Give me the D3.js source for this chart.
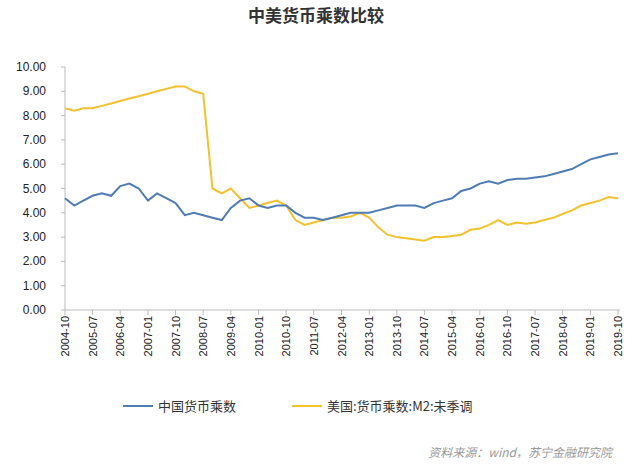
<!DOCTYPE html>
<html><head><meta charset="utf-8">
<script src="https://cdn.jsdelivr.net/npm/d3@7"></script>
<style>body{margin:0;background:#fff;font-family:"Noto Sans CJK SC","Noto Sans",sans-serif}</style>
</head><body><svg id="c" width="632" height="467"></svg>
<script>
// quarterly readings, starting 2004-10
var start = new Date(2004, 9, 1);
var china = [4.6,4.3,4.5,4.7,4.8,4.7,5.1,5.2,5.0,4.5,4.8,4.6,4.4,3.9,4.0,3.9,3.8,3.7,4.2,4.5,4.6,4.3,4.2,4.3,4.3,4.0,3.8,3.8,3.7,3.8,3.9,4.0,4.0,4.0,4.1,4.2,4.3,4.3,4.3,4.2,4.4,4.5,4.6,4.9,5.0,5.2,5.3,5.2,5.35,5.4,5.4,5.45,5.5,5.6,5.7,5.8,6.0,6.2,6.3,6.4,6.45];
var us = [8.3,8.2,8.3,8.3,8.4,8.5,8.6,8.7,8.8,8.9,9.0,9.1,9.2,9.2,9.0,8.9,5.0,4.8,5.0,4.6,4.2,4.3,4.4,4.5,4.3,3.7,3.5,3.6,3.7,3.8,3.8,3.85,4.0,3.8,3.4,3.1,3.0,2.95,2.9,2.85,3.0,3.0,3.05,3.1,3.3,3.35,3.5,3.7,3.5,3.6,3.55,3.6,3.7,3.8,3.95,4.1,4.3,4.4,4.5,4.65,4.6];
var tickLabels = ["2004-10","2005-07","2006-04","2007-01","2007-10","2008-07","2009-04","2010-01","2010-10","2011-07","2012-04","2013-01","2013-10","2014-07","2015-04","2016-01","2016-10","2017-07","2018-04","2019-01","2019-10"];
var yTicks = [0,1,2,3,4,5,6,7,8,9,10];

var svg = d3.select("#c");
var dates = china.map(function(d,i){ return d3.timeMonth.offset(start, i*3); });
var x = d3.scaleTime().domain([start, new Date(2019,9,1)]).range([65, 618]);
var y = d3.scaleLinear().domain([0,10]).range([310, 67]);

svg.append("text").attr("x",316).attr("y",22).attr("text-anchor","middle")
  .attr("font-size",17).attr("font-weight","bold").attr("fill","#333").text("中美货币乘数比较");

svg.append("line").attr("x1",65).attr("x2",65).attr("y1",67).attr("y2",310).attr("stroke","#bbb");
yTicks.forEach(function(t){
  svg.append("line").attr("x1",61).attr("x2",65).attr("y1",y(t)).attr("y2",y(t)).attr("stroke","#bbb");
  svg.append("text").attr("x",46).attr("y",y(t)+4).attr("text-anchor","end")
    .attr("font-size",12).attr("font-family","Liberation Sans").attr("fill","#222").text(t.toFixed(2));
});
svg.append("line").attr("x1",65).attr("x2",620).attr("y1",310).attr("y2",310).attr("stroke","#bbb");
tickLabels.forEach(function(s){
  var p = s.split("-"), d = new Date(+p[0], +p[1]-1, 1), px = x(d);
  svg.append("line").attr("x1",px).attr("x2",px).attr("y1",310).attr("y2",315).attr("stroke","#bbb");
  svg.append("text").attr("transform","translate("+(px+4)+",316) rotate(-90)").attr("text-anchor","end")
    .attr("font-size",11).attr("font-family","Liberation Sans").attr("fill","#222").text(s);
});

var line = d3.line().x(function(d,i){ return x(dates[i]); }).y(function(d){ return y(d); });
svg.append("path").datum(us).attr("d",line).attr("fill","none").attr("stroke","#f2c12e").attr("stroke-width",2);
svg.append("path").datum(china).attr("d",line).attr("fill","none").attr("stroke","#4f7cb3").attr("stroke-width",2);

var leg = [["中国货币乘数","#4f7cb3",123],["美国:货币乘数:M2:未季调","#f2c12e",292]];
leg.forEach(function(l){
  svg.append("line").attr("x1",l[2]).attr("x2",l[2]+30).attr("y1",406).attr("y2",406).attr("stroke",l[1]).attr("stroke-width",2);
  svg.append("text").attr("x",l[2]+35).attr("y",411).attr("font-size",13).attr("fill","#333").text(l[0]);
});
svg.append("text").attr("x",612).attr("y",457).attr("text-anchor","end").attr("font-size",12)
  .attr("font-style","italic").attr("fill","#999").text("资料来源：wind，苏宁金融研究院");
</script></body></html>
